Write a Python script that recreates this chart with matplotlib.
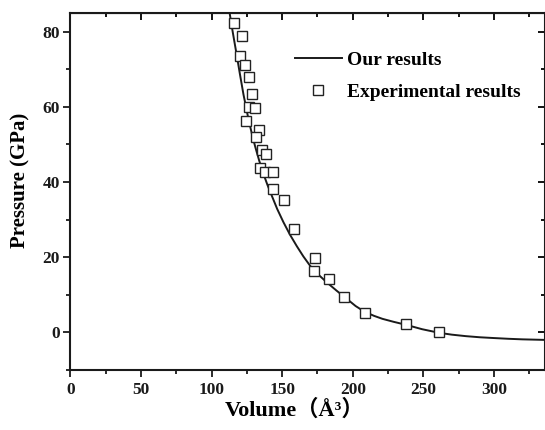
import numpy as np
import matplotlib
matplotlib.use("Agg")
from matplotlib import pyplot as plt
from matplotlib.ticker import MultipleLocator

# fitted curve
fit_v = [112.7, 115.0, 117.9, 120.0, 122.6, 126.1, 128.5, 130.9, 133.8, 136.8,
         139.5, 142.7, 146.5, 150.9, 155.5, 160.4, 165.0, 169.8, 175.5, 181.6,
         188.5, 195.8, 202.0, 208.3, 215.0, 221.0, 229.0, 237.8, 249.0, 260.9,
         270.0, 280.0, 290.0, 299.6, 310.0, 320.0, 336.3]
fit_p = [85.2, 79.9, 73.6, 68.9, 63.3, 56.8, 52.9, 49.4, 45.6, 42.1,
         39.3, 36.3, 32.8, 29.3, 26.0, 22.9, 20.2, 17.7, 15.4, 13.3,
         11.1, 8.9, 7.0, 5.5, 4.4, 3.6, 2.8, 2.0, 0.85, -0.1,
         -0.6, -1.0, -1.3, -1.5, -1.7, -1.85, -2.0]

# experimental points
exp_v = [116.2, 121.9, 120.5, 124.0, 126.8, 129.0, 126.8, 131.1, 124.7, 133.9,
         131.8, 136.0, 138.4, 134.6, 138.2, 143.4, 143.8, 151.2, 158.7, 172.9,
         172.4, 183.3, 194.1, 208.3, 237.8, 260.9]
exp_p = [82.2, 78.7, 73.5, 71.2, 67.9, 63.5, 60.0, 59.6, 56.2, 53.7,
         52.0, 48.4, 47.3, 43.7, 42.7, 42.7, 38.1, 35.2, 27.5, 19.7,
         16.2, 14.2, 9.3, 5.2, 2.1, 0.0]

plt.rcParams['font.family'] = ['Liberation Serif', 'Noto Sans CJK SC']
plt.rcParams['font.weight'] = 'bold'

fig = plt.figure(figsize=(5.45, 4.3), dpi=100)
ax = fig.add_axes([70.2 / 545, 60 / 430, 1 - 70.2 / 545, (370 - 12.7) / 430])

line, = ax.plot(fit_v, fit_p, color="#1a1a1a", lw=1.4, label="Our results")
pts, = ax.plot(exp_v, exp_p, linestyle="none", marker="s", ms=7.5,
               mfc="white", mec="#222222", mew=1.0, label="Experimental results")

ax.set_xlim(0, 336)
ax.set_ylim(-10, 85)
ax.xaxis.set_major_locator(MultipleLocator(50))
ax.xaxis.set_minor_locator(MultipleLocator(25))
ax.yaxis.set_major_locator(MultipleLocator(20))
ax.yaxis.set_minor_locator(MultipleLocator(10))

for s in ax.spines.values():
    s.set_linewidth(1.5)
    s.set_color("#1a1a1a")

ax.tick_params(which="both", direction="out", top=False, right=False,
               width=1.3, colors="#1a1a1a", labelsize=12.5)
ax.tick_params(which="major", length=5)
ax.tick_params(which="minor", length=3)
ax.tick_params(axis="x", pad=4)
ax.tick_params(axis="y", pad=2.5)

top = ax.secondary_xaxis("top")
top.xaxis.set_major_locator(MultipleLocator(50))
top.xaxis.set_minor_locator(MultipleLocator(25))
top.tick_params(which="both", direction="in", labeltop=False, width=1.3)
top.tick_params(which="major", length=5)
top.tick_params(which="minor", length=3)

right = ax.secondary_yaxis("right")
right.yaxis.set_major_locator(MultipleLocator(20))
right.yaxis.set_minor_locator(MultipleLocator(10))
right.tick_params(which="both", direction="in", labelright=False, width=1.3)
right.tick_params(which="major", length=5)
right.tick_params(which="minor", length=3)

ax.set_xlabel("Volume（Å³）", fontsize=16, fontweight="bold")
ax.set_ylabel("Pressure (GPa)", fontsize=15, fontweight="bold")
ax.xaxis.set_label_coords(0.472, -0.083)
ax.yaxis.set_label_coords(-0.083, 0.53)

ax.legend(handles=[line, pts], loc="upper left", bbox_to_anchor=(0.4735, 0.893),
          frameon=False, fontsize=14, borderpad=0, handlelength=2.4,
          handletextpad=0.25, labelspacing=0.75, borderaxespad=0)

fig.savefig("out.png", dpi=100)
